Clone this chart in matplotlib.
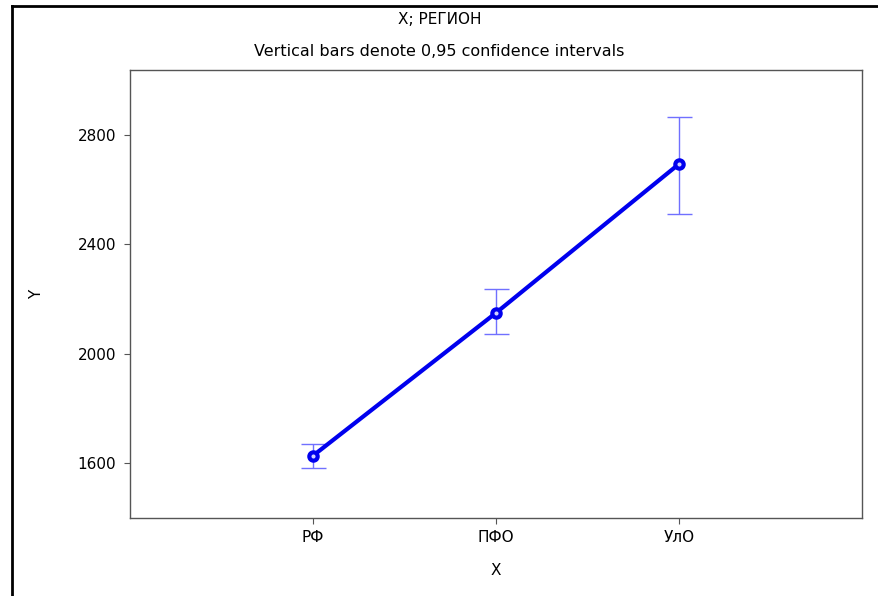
import matplotlib.pyplot as plt
from matplotlib.lines import Line2D

plt.rcParams['font.family'] = ['DejaVu Sans']

# Means and 0.95 confidence limits by region
regions = ['РФ', 'ПФО', 'УлО']
means = [1626, 2149, 2694]
lower = [1582, 2072, 2511]
upper = [1670, 2237, 2866]

x = [1, 2, 3]
err = [[m - lo for m, lo in zip(means, lower)],
       [up - m for m, up in zip(means, upper)]]

fig = plt.figure(figsize=(8.79, 5.96), dpi=100)
ax = fig.add_axes([130 / 879, 1 - 518 / 596, 732 / 879, 448 / 596])

ax.errorbar(x, means, yerr=err, fmt='none', ecolor='#7070ff', elinewidth=1,
            capsize=9, capthick=1, zorder=2)
ax.plot(x, means, color='#0000ee', lw=3, marker='o', ms=6,
        markerfacecolor='#d0d0ff', markeredgewidth=3,
        markeredgecolor='#0000ee', zorder=3)

ax.set_xlim(0, 4)
ax.set_ylim(1398, 3038)
ax.set_xticks(x)
ax.set_xticklabels(regions)
ax.set_yticks([1600, 2000, 2400, 2800])
ax.tick_params(direction='out', length=4, color='#555555', labelsize=11,
               pad=6)
ax.tick_params(axis='x', pad=5)
for s in ax.spines.values():
    s.set_color('#555555')
    s.set_linewidth(1)

ax.set_xlabel('X', fontsize=11)
ax.set_ylabel('Y', fontsize=11)
ax.xaxis.set_label_coords(0.5, -0.10)
ax.yaxis.set_label_coords(-0.118, 0.5)

fig.text(0.5, 1 - 20 / 596, 'X; РЕГИОН', ha='center', va='center',
         fontsize=11)
fig.text(0.5, 1 - 52 / 596, 'Vertical bars denote 0,95 confidence intervals',
         ha='center', va='center', fontsize=11.5)

# outer frame (left and top black lines)
fig.add_artist(Line2D([12 / 879, 12 / 879], [0, 1 - 6 / 596],
                      transform=fig.transFigure, color='black', lw=2))
fig.add_artist(Line2D([12 / 879, 1], [1 - 6 / 596, 1 - 6 / 596],
                      transform=fig.transFigure, color='black', lw=2))

fig.savefig('out.png', dpi=100)
